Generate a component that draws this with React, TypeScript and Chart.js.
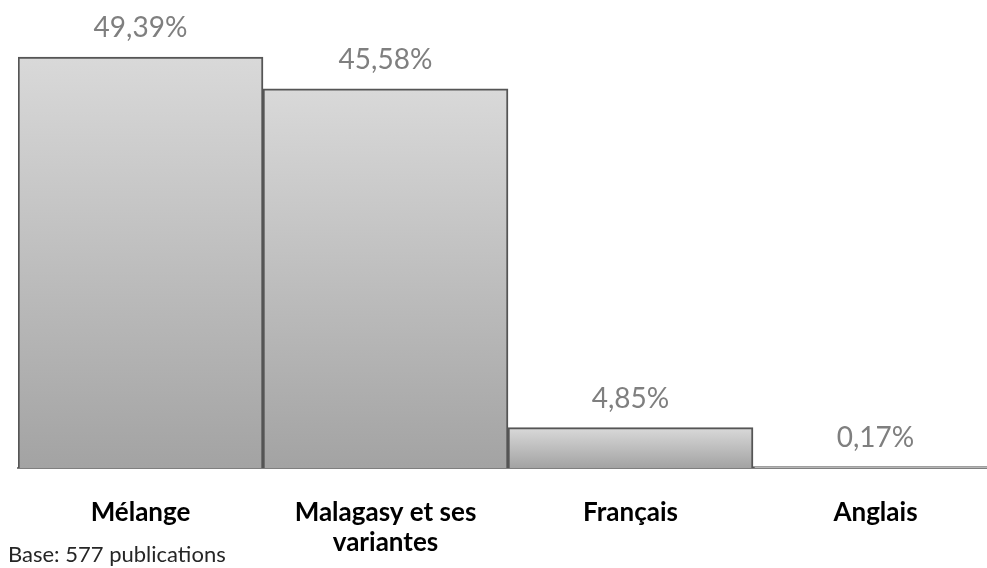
import React, { useEffect, useRef } from "react";
import { Chart, registerables } from "chart.js";

Chart.register(...registerables);

const categories: (string | string[])[] = ["Mélange", ["Malagasy et ses", "variantes"], "Français", "Anglais"];
const values = [49.39, 45.58, 4.85, 0.17];
const valueLabels = ["49,39%", "45,58%", "4,85%", "0,17%"];
const footnote = "Base: 577 publications";

const FONT = "Lato, 'Open Sans', sans-serif";

export default function App() {
  const ref = useRef<HTMLCanvasElement | null>(null);

  useEffect(() => {
    if (!ref.current) return;
    const labelPlugin = {
      id: "valueLabels",
      afterDatasetsDraw(chart: any) {
        const ctx = chart.ctx;
        const meta = chart.getDatasetMeta(0);
        ctx.save();
        ctx.font = `28px ${FONT}`;
        ctx.fillStyle = "#7f7f7f";
        ctx.textAlign = "center";
        ctx.textBaseline = "middle";
        meta.data.forEach((el: any, i: number) => {
          ctx.fillText(valueLabels[i], el.x, el.y - 29);
        });
        ctx.restore();
      },
      afterDraw(chart: any) {
        const ctx = chart.ctx;
        ctx.save();
        ctx.font = `22px ${FONT}`;
        ctx.fillStyle = "#262626";
        ctx.textAlign = "left";
        ctx.textBaseline = "middle";
        ctx.fillText(footnote, 8, 555);
        ctx.restore();
      },
    };

    const chart = new Chart(ref.current, {
      type: "bar",
      data: {
        labels: categories,
        datasets: [
          {
            data: values,
            backgroundColor: (c: any) => {
              const ch = c.chart;
              if (!ch.chartArea || c.type !== "data") return "#c0c0c0";
              const y = ch.scales.y;
              const top = y.getPixelForValue(c.raw);
              const bottom = y.getPixelForValue(0);
              if (!isFinite(top) || !isFinite(bottom) || bottom - top < 1) return "#bdbdbd";
              const g = ch.ctx.createLinearGradient(0, top, 0, bottom);
              g.addColorStop(0, "#d9d9d9");
              g.addColorStop(1, "#a3a3a3");
              return g;
            },
            borderColor: "#555555",
            borderWidth: { top: 2, left: 2, right: 2, bottom: 0 },
            borderSkipped: "bottom",
            barPercentage: 1,
            categoryPercentage: 1,
          },
        ],
      },
      options: {
        responsive: false,
        animation: false,
        layout: { padding: { top: 52, left: 18, right: 12, bottom: 0 } },
        plugins: { legend: { display: false }, tooltip: { enabled: false } },
        scales: {
          y: { display: false, min: 0, max: 50 },
          x: {
            grid: { display: false },
            border: { display: true, color: "#7f7f7f", width: 2 },
            ticks: {
              color: "#000000",
              padding: 21,
              maxRotation: 0,
              font: { family: FONT, size: 26, weight: "bold", lineHeight: 1.17 },
            },
            afterFit(scale: any) {
              scale.height = 100;
            },
          },
        },
      },
      plugins: [labelPlugin],
    } as any);
    return () => chart.destroy();
  }, []);

  return (
    <div style={{ position: "fixed", left: 0, top: 0, width: 987, height: 568, overflow: "hidden", background: "#fff" }}>
      <canvas ref={ref} width={1010} height={568} style={{ display: "block" }} />
    </div>
  );
}
